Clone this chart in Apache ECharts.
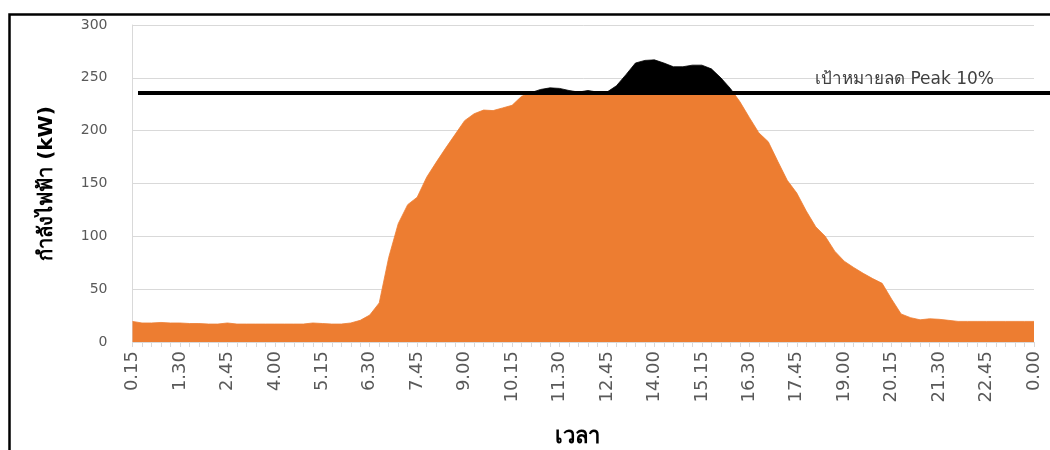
<!DOCTYPE html>
<html>
<head>
<meta charset="utf-8">
<title>กำลังไฟฟ้า</title>
<script src="https://cdn.jsdelivr.net/npm/echarts@6/dist/echarts.min.js"></script>
<style>
  html, body { margin: 0; padding: 0; background: #ffffff; }
  #chart { width: 1050px; height: 450px; }
</style>
</head>
<body>
<div id="chart"></div>
<script>
// 15-minute time slots over one day
const times = [
  '0.15','0.30','0.45','1.00','1.15','1.30','1.45','2.00','2.15','2.30','2.45','3.00',
  '3.15','3.30','3.45','4.00','4.15','4.30','4.45','5.00','5.15','5.30','5.45','6.00',
  '6.15','6.30','6.45','7.00','7.15','7.30','7.45','8.00','8.15','8.30','8.45','9.00',
  '9.15','9.30','9.45','10.00','10.15','10.30','10.45','11.00','11.15','11.30','11.45','12.00',
  '12.15','12.30','12.45','13.00','13.15','13.30','13.45','14.00','14.15','14.30','14.45','15.00',
  '15.15','15.30','15.45','16.00','16.15','16.30','16.45','17.00','17.15','17.30','17.45','18.00',
  '18.15','18.30','18.45','19.00','19.15','19.30','19.45','20.00','20.15','20.30','20.45','21.00',
  '21.15','21.30','21.45','22.00','22.15','22.30','22.45','23.00','23.15','23.30','23.45','0.00'
];

// Electrical load (kW) per slot
const loadKW = [
  19.5, 18, 18, 18.5, 18, 18, 17.5, 17.5, 17, 17, 18, 17,
  17, 17, 17, 17, 17, 17, 17, 18, 17.5, 17, 17, 18,
  20.5, 25.5, 37, 80, 112, 130, 137, 156, 170, 183.5, 196.5, 209.5,
  216, 219.5, 219, 221.5, 224, 232.5, 236, 239, 240.5, 240, 238, 236.5,
  238, 236.5, 236.5, 242.5, 253, 264, 266.5, 267, 264, 260.5, 260.5, 262,
  262, 258.5, 250, 240, 227.5, 212.5, 198, 189.5, 171, 153, 141, 124,
  109, 100, 86, 76.5, 70.5, 65, 60, 55.5, 40.5, 26.5, 23, 21,
  22, 21.5, 20.5, 19.5, 19.5, 19.5, 19.5, 19.5, 19.5, 19.5, 19.5, 19.5
];

// Peak-shaving target (kW)
const targetKW = 236;
const targetText = 'เป้าหมายลด Peak 10%';

const yTicks = { min: 0, max: 300, interval: 50 };

const ORANGE = '#ED7D31';
const GRID_GRAY = '#D9D9D9';
const LABEL_GRAY = '#595959';

const chart = echarts.init(document.getElementById('chart'), null, { renderer: 'canvas' });

chart.setOption({
  animation: false,
  backgroundColor: '#ffffff',
  grid: [
    { left: 132.5, right: 16, top: 25, bottom: 108, outerBoundsMode: 'none', containLabel: false },
    // wider band used only for the target line, which runs to the right edge
    { left: 138, right: 0, top: 25, bottom: 108, outerBoundsMode: 'none', containLabel: false }
  ],
  xAxis: [
    {
      type: 'category',
      gridIndex: 0,
      data: times,
      boundaryGap: false,
      name: 'เวลา',
      nameLocation: 'middle',
      nameGap: 84,
      nameTextStyle: {
        fontFamily: 'Tahoma, "DejaVu Sans", sans-serif',
        fontSize: 22,
        fontWeight: 'bold',
        color: '#000000',
        padding: [0, 12, 0, 0]
      },
      axisLine: { lineStyle: { color: GRID_GRAY, width: 1 } },
      axisTick: { show: true, interval: 0, length: 5, lineStyle: { color: GRID_GRAY } },
      axisLabel: {
        interval: 4,
        rotate: 90,
        margin: 9,
        color: LABEL_GRAY,
        fontFamily: '"DejaVu Sans", sans-serif',
        fontSize: 18
      },
      splitLine: { show: false }
    },
    { type: 'value', gridIndex: 1, min: 0, max: 1, show: false }
  ],
  yAxis: [
    {
      type: 'value',
      gridIndex: 0,
      min: yTicks.min,
      max: yTicks.max,
      interval: yTicks.interval,
      name: 'กำลังไฟฟ้า (kW)',
      nameLocation: 'middle',
      nameGap: 76,
      nameRotate: 90,
      nameTextStyle: {
        fontFamily: 'Tahoma, "DejaVu Sans", sans-serif',
        fontSize: 20,
        fontWeight: 'bold',
        color: '#000000'
      },
      axisLine: { show: true, lineStyle: { color: GRID_GRAY, width: 1 } },
      axisTick: { show: false },
      axisLabel: {
        margin: 25,
        color: LABEL_GRAY,
        fontFamily: '"DejaVu Sans", sans-serif',
        fontSize: 14
      },
      splitLine: { show: true, lineStyle: { color: GRID_GRAY, width: 1 } }
    },
    { type: 'value', gridIndex: 1, min: yTicks.min, max: yTicks.max, show: false }
  ],
  // load above the target is filled black, the rest orange
  visualMap: {
    type: 'piecewise',
    show: false,
    seriesIndex: 0,
    dimension: 1,
    pieces: [
      { gte: -1000, lte: targetKW, color: ORANGE },
      { gt: targetKW, lte: 10000, color: '#000000' }
    ]
  },
  series: [
    {
      name: 'กำลังไฟฟ้า',
      type: 'line',
      xAxisIndex: 0,
      yAxisIndex: 0,
      data: loadKW,
      showSymbol: false,
      symbol: 'none',
      lineStyle: { width: 0.8 },
      areaStyle: { opacity: 1 },
      silent: true,
      z: 2
    },
    {
      name: 'target',
      type: 'line',
      xAxisIndex: 1,
      yAxisIndex: 1,
      data: [],
      silent: true,
      z: 5,
      markLine: {
        silent: true,
        symbol: ['none', 'none'],
        animation: false,
        lineStyle: { color: '#000000', width: 4, type: 'solid' },
        label: {
          show: true,
          position: 'insideEndTop',
          distance: [56, 5],
          formatter: targetText,
          color: '#404040',
          fontFamily: 'Tahoma, "DejaVu Sans", sans-serif',
          fontSize: 17
        },
        emphasis: { disabled: true },
        data: [{ yAxis: targetKW }]
      }
    }
  ],
  graphic: [
    {
      type: 'polyline',
      silent: true,
      shape: { points: [[9.5, 460], [9.5, 14.5], [1060, 14.5]] },
      style: { stroke: '#000000', lineWidth: 2.5, fill: null }
    }
  ]
});
</script>
</body>
</html>
